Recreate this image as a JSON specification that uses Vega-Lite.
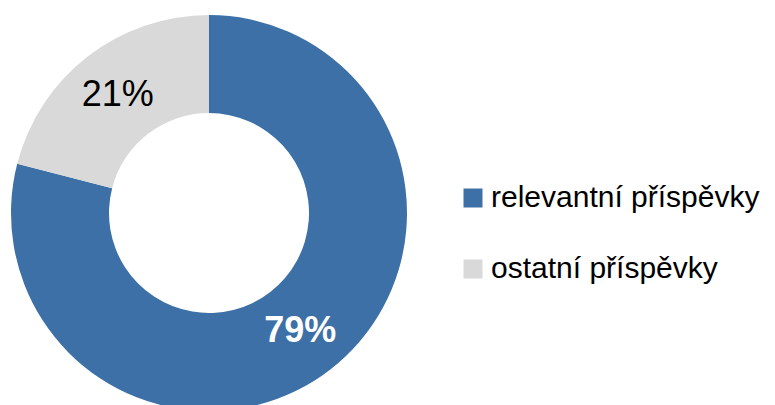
{
  "$schema": "https://vega.github.io/schema/vega-lite/v6.json",
  "width": 775,
  "height": 405,
  "padding": 0,
  "autosize": "none",
  "background": "white",
  "config": {"view": {"stroke": null}, "font": "Liberation Sans"},
  "data": {"values": [
    {"cat": "relevantní příspěvky", "value": 0.79, "idx": 1},
    {"cat": "ostatní příspěvky", "value": 0.21, "idx": 2}
  ]},
  "encoding": {
    "theta": {"field": "value", "type": "quantitative", "stack": true},
    "order": {"field": "idx", "type": "quantitative"}
  },
  "layer": [
    {
      "mark": {"type": "arc", "x": 209, "y": 213, "outerRadius": 198, "innerRadius": 100},
      "encoding": {
        "color": {
          "field": "cat", "type": "nominal",
          "scale": {"domain": ["relevantní příspěvky", "ostatní příspěvky"], "range": ["#3C70A6", "#D9D9D9"]},
          "sort": null,
          "legend": {
            "title": null, "orient": "none", "legendX": 458, "legendY": 183,
            "symbolType": "square", "symbolSize": 361, "symbolStrokeWidth": 0,
            "labelFontSize": 30, "labelFont": "Liberation Sans", "labelColor": "#000000",
            "labelOffset": 3, "rowPadding": 41, "labelLimit": 400
          }
        }
      }
    },
    {
      "mark": {"type": "text", "x": 209, "y": 213, "radius": 149, "fontSize": 36, "fontWeight": "bold", "baseline": "middle", "align": "center"},
      "encoding": {
        "text": {"field": "value", "type": "quantitative", "format": ".0%"},
        "color": {"condition": {"test": "datum.idx == 1", "value": "#FFFFFF"}, "value": "transparent"}
      }
    },
    {
      "mark": {"type": "text", "x": 209, "y": 213, "radius": 149, "fontSize": 36, "baseline": "middle", "align": "center"},
      "encoding": {
        "text": {"field": "value", "type": "quantitative", "format": ".0%"},
        "color": {"condition": {"test": "datum.idx == 2", "value": "#000000"}, "value": "transparent"}
      }
    }
  ]
}
